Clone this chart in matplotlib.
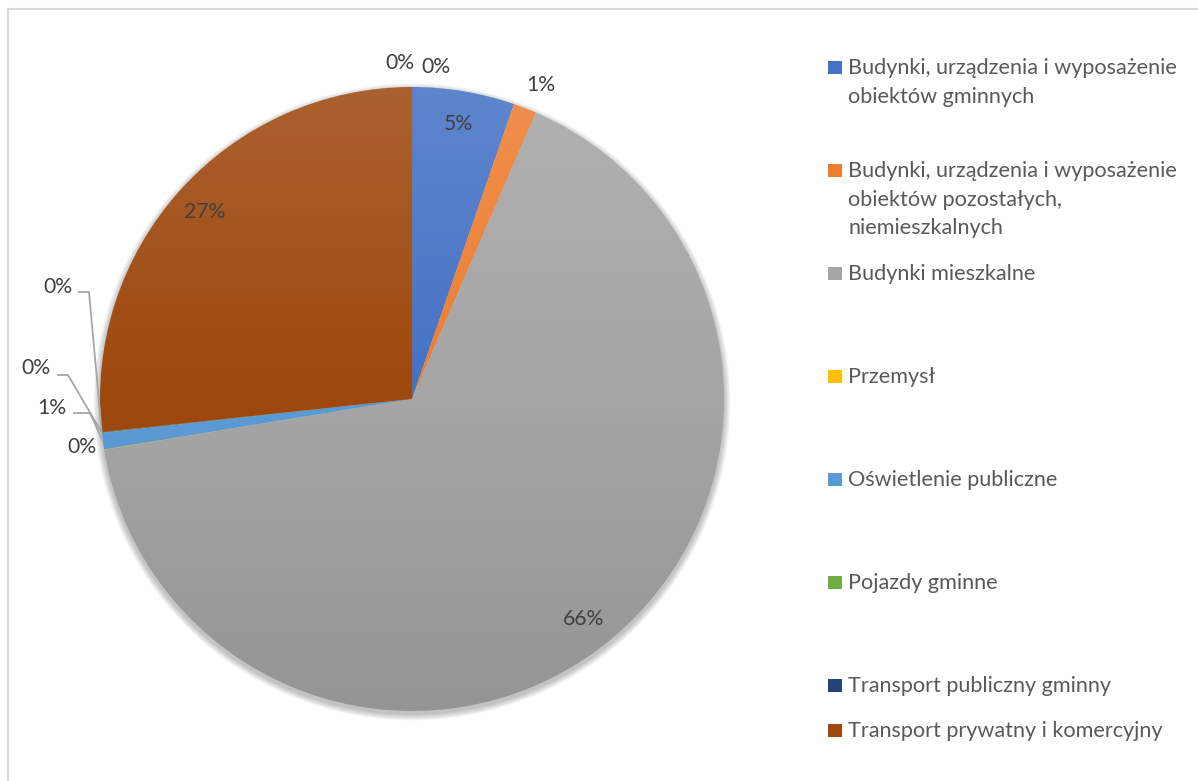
import numpy as np
import matplotlib
matplotlib.use("Agg")
import matplotlib.pyplot as plt
from matplotlib.patches import Rectangle, Circle

plt.rcParams['font.family'] = ['Lato', 'DejaVu Sans']

# ---------------- data ----------------
categories = [
    "Budynki, urządzenia i wyposażenie\nobiektów gminnych",
    "Budynki, urządzenia i wyposażenie\nobiektów pozostałych,\nniemieszkalnych",
    "Budynki mieszkalne",
    "Przemysł",
    "Oświetlenie publiczne",
    "Pojazdy gminne",
    "Transport publiczny gminny",
    "Transport prywatny i komercyjny",
    "",
    "",
]
shares = [5.3, 1.2, 65.9, 0.02, 0.85, 0.02, 0.02, 26.69, 0.0, 0.0]
colors = ["#4472C4", "#ED7D31", "#A5A5A5", "#FFC000", "#5B9BD5",
          "#70AD47", "#264478", "#9E480E", "#636363", "#997300"]
legend_count = 8

# ---------------- layout (pixels) ----------------
W, H = 1198, 781
def Y(y):
    return H - y

cx, cy, R = 412, Y(399), 312

fig = plt.figure(figsize=(W / 100, H / 100), dpi=100)
ax = fig.add_axes([0, 0, 1, 1])

# soft shadow
for i in range(7):
    ax.add_patch(Circle((cx, cy - 3), R + 1 + i * 0.9, facecolor='black',
                        alpha=0.035, edgecolor='none', zorder=0))

wedges, _ = ax.pie(shares, colors=colors, startangle=90, counterclock=False,
                   radius=R, center=(cx, cy),
                   wedgeprops=dict(linewidth=0, antialiased=True))
for w in wedges:
    w.set_zorder(2)

# gradient shading overlay
n = 400
t = np.linspace(0, 1, n)
grad = np.zeros((n, 1, 4))
top = t < 0.5
grad[top, 0, :3] = 1.0
grad[top, 0, 3] = 0.14 * (1 - 2 * t[top])
grad[~top, 0, :3] = 0.0
grad[~top, 0, 3] = 0.10 * (2 * t[~top] - 1)
im = ax.imshow(grad, extent=[cx - R, cx + R, cy - R, cy + R], origin='upper',
               aspect='auto', zorder=3, interpolation='bilinear')
clip = Circle((cx, cy), R, transform=ax.transData)
im.set_clip_path(clip)

total = sum(shares)
pct_text = [f"{round(v / total * 100):.0f}%" for v in shares]

label_col = "#404040"
fs_lab = 15.2

def mid_angle(w):
    return np.deg2rad((w.theta1 + w.theta2) / 2)

# inside labels
for i in (0, 2, 7):
    a = mid_angle(wedges[i])
    x = cx + 0.895 * R * np.cos(a)
    y = cy + 0.895 * R * np.sin(a)
    ax.text(x, y, pct_text[i], ha='center', va='center', fontsize=fs_lab,
            color=label_col, zorder=5)

# outside labels: (text centre x, baseline y) in pixels
outside = {1: (541, 91), 3: (82, 453), 4: (52, 414), 5: (36, 374),
           6: (58, 293), 8: (400, 69), 9: (436, 73)}
for i, (x, yb) in outside.items():
    ax.text(x, Y(yb), pct_text[i], ha='center', va='baseline', fontsize=fs_lab,
            color=label_col, zorder=5)

# leader lines (start, elbow) then to the pie edge
leaders = {4: [(73, 413), (90, 413)], 5: [(57, 375), (68, 375)],
           6: [(78, 292), (89, 292)]}
for i, pts in leaders.items():
    a = mid_angle(wedges[i])
    ex = cx + R * np.cos(a)
    ey = cy + R * np.sin(a)
    xs = [p[0] for p in pts] + [ex]
    ys = [Y(p[1]) for p in pts] + [ey]
    ax.plot(xs, ys, color="#A6A6A6", lw=1.3, zorder=4, solid_capstyle='butt')

# legend drawn manually
legend_base = [74, 177, 280, 383, 486, 589, 692, 737]
line_gap = 28.7
for i in range(legend_count):
    yb = legend_base[i]
    ax.add_patch(Rectangle((828, Y(yb)), 14, 13, facecolor=colors[i],
                           edgecolor='none', zorder=5))
    for j, line in enumerate(categories[i].split("\n")):
        ax.text(848, Y(yb + j * line_gap), line, ha='left', va='baseline',
                fontsize=15.6, color="#595959", zorder=5)

# chart border
ax.plot([7.5, 7.5], [Y(9), Y(781)], color="#D9D9D9", lw=1.5, zorder=1)
ax.plot([7.5, W], [Y(9), Y(9)], color="#D9D9D9", lw=1.5, zorder=1)

ax.set_xlim(0, W)
ax.set_ylim(0, H)
ax.set_aspect('auto')
ax.axis('off')

fig.savefig("out.png", dpi=100, facecolor='white')
